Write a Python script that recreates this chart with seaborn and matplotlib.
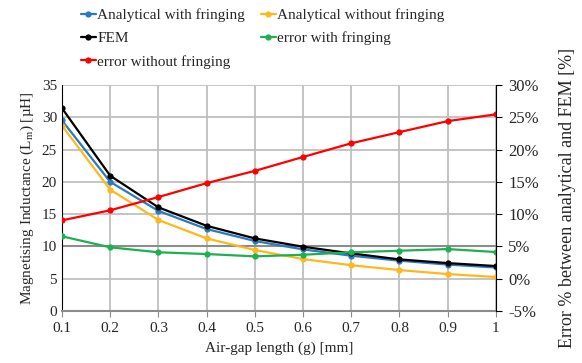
import matplotlib
matplotlib.use('Agg')
import matplotlib.pyplot as plt
import matplotlib.ticker as mticker
import seaborn as sns

# Values
gap_mm = [0.1, 0.2, 0.3, 0.4, 0.5, 0.6, 0.7, 0.8, 0.9, 1.0]
ana_fringe = [29.5, 20.0, 15.5, 12.7, 10.85, 9.55, 8.57, 7.8, 7.2, 6.75]
ana_nofringe = [28.7, 18.8, 14.1, 11.25, 9.45, 8.05, 7.1, 6.35, 5.73, 5.27]
fem = [31.4, 20.95, 16.05, 13.2, 11.25, 9.96, 8.93, 8.0, 7.43, 6.97]
err_fringe = [6.57, 4.87, 4.1, 3.83, 3.47, 3.72, 4.1, 4.34, 4.6, 4.14]
err_nofringe = [9.04, 10.6, 12.65, 14.8, 16.7, 18.85, 20.97, 22.7, 24.4, 25.45]
x_labels = ['0.1', '0.2', '0.3', '0.4', '0.5', '0.6', '0.7', '0.8', '0.9', '1']

sns.set_style('white')
plt.rcParams['font.family'] = ['Liberation Serif', 'DejaVu Serif']
plt.rcParams['font.size'] = 11

fig = plt.figure(figsize=(5.82, 3.63), dpi=100)
ax = fig.add_axes([0.1065, 0.143, 0.7455, 0.623])
ax2 = ax.twinx()

grid_col = '#BFBFBF'
ax.set_xlim(0.1, 1.0)
ax.set_ylim(0, 35)
ax2.set_ylim(-5, 30)
ax.set_xticks(gap_mm)
ax.set_xticklabels(x_labels)
ax.set_yticks(range(0, 36, 5))
ax2.set_yticks(range(-5, 31, 5))
ax2.yaxis.set_major_formatter(mticker.FuncFormatter(lambda v, p: f'{v:.0f}%'))
ax.grid(True, color=grid_col, linewidth=1.3)
ax.axhline(10, color='#8C8C8C', linewidth=1.5, zorder=1)
ax.set_axisbelow(True)

kw = dict(marker='o', markersize=4.5, markeredgewidth=0, linewidth=1.6)
sns.lineplot(x=gap_mm, y=ana_fringe, ax=ax, color='#2A7AC0', label='Analytical with fringing', **kw)
sns.lineplot(x=gap_mm, y=ana_nofringe, ax=ax, color='#FFB81C', label='Analytical without fringing', **kw)
sns.lineplot(x=gap_mm, y=fem, ax=ax, color='black', label='FEM', **kw)
sns.lineplot(x=gap_mm, y=err_fringe, ax=ax2, color='#1DB050', label='error with fringing', **kw)
sns.lineplot(x=gap_mm, y=err_nofringe, ax=ax2, color='#FF0000', label='error without fringing', **kw)

h1, l1 = ax.get_legend_handles_labels()
h2, l2 = ax2.get_legend_handles_labels()
ax.get_legend().remove()
ax2.get_legend().remove()
hd = dict(zip(l1 + l2, h1 + h2))
order = ['Analytical with fringing', 'FEM', 'error without fringing',
         'Analytical without fringing', 'error with fringing']
fig.legend([hd[k] for k in order], order, ncol=2, loc='upper left',
           bbox_to_anchor=(0.115, 1.015), frameon=False, handlelength=1.0,
           handletextpad=0.1, columnspacing=1.0, labelspacing=0.62, fontsize=11)

for a in (ax, ax2):
    for s in a.spines.values():
        s.set_visible(False)
ax.spines['left'].set_visible(True)
ax.spines['left'].set_color('black')
ax2.spines['right'].set_visible(True)
ax2.spines['right'].set_color('black')
ax.spines['bottom'].set_visible(True)
ax.spines['bottom'].set_color('#8C8C8C')
ax.spines['bottom'].set_linewidth(1.5)

ax.tick_params(axis='x', direction='out', length=4, color='#8C8C8C', bottom=True)
ax.tick_params(axis='y', length=0, left=False)
ax2.tick_params(axis='y', direction='out', length=4, color='black', right=True,
                labelsize=12, pad=5)

ax.set_xlabel('Air-gap length (g) [mm]', fontsize=11, labelpad=5)
ax.set_ylabel('Magnetising Inductance (L$_\\mathregular{m}$) [µH]', fontsize=11)
ax2.set_ylabel('Error % between analytical and FEM [%]', fontsize=13, labelpad=14)

fig.savefig('out.png', dpi=100)
